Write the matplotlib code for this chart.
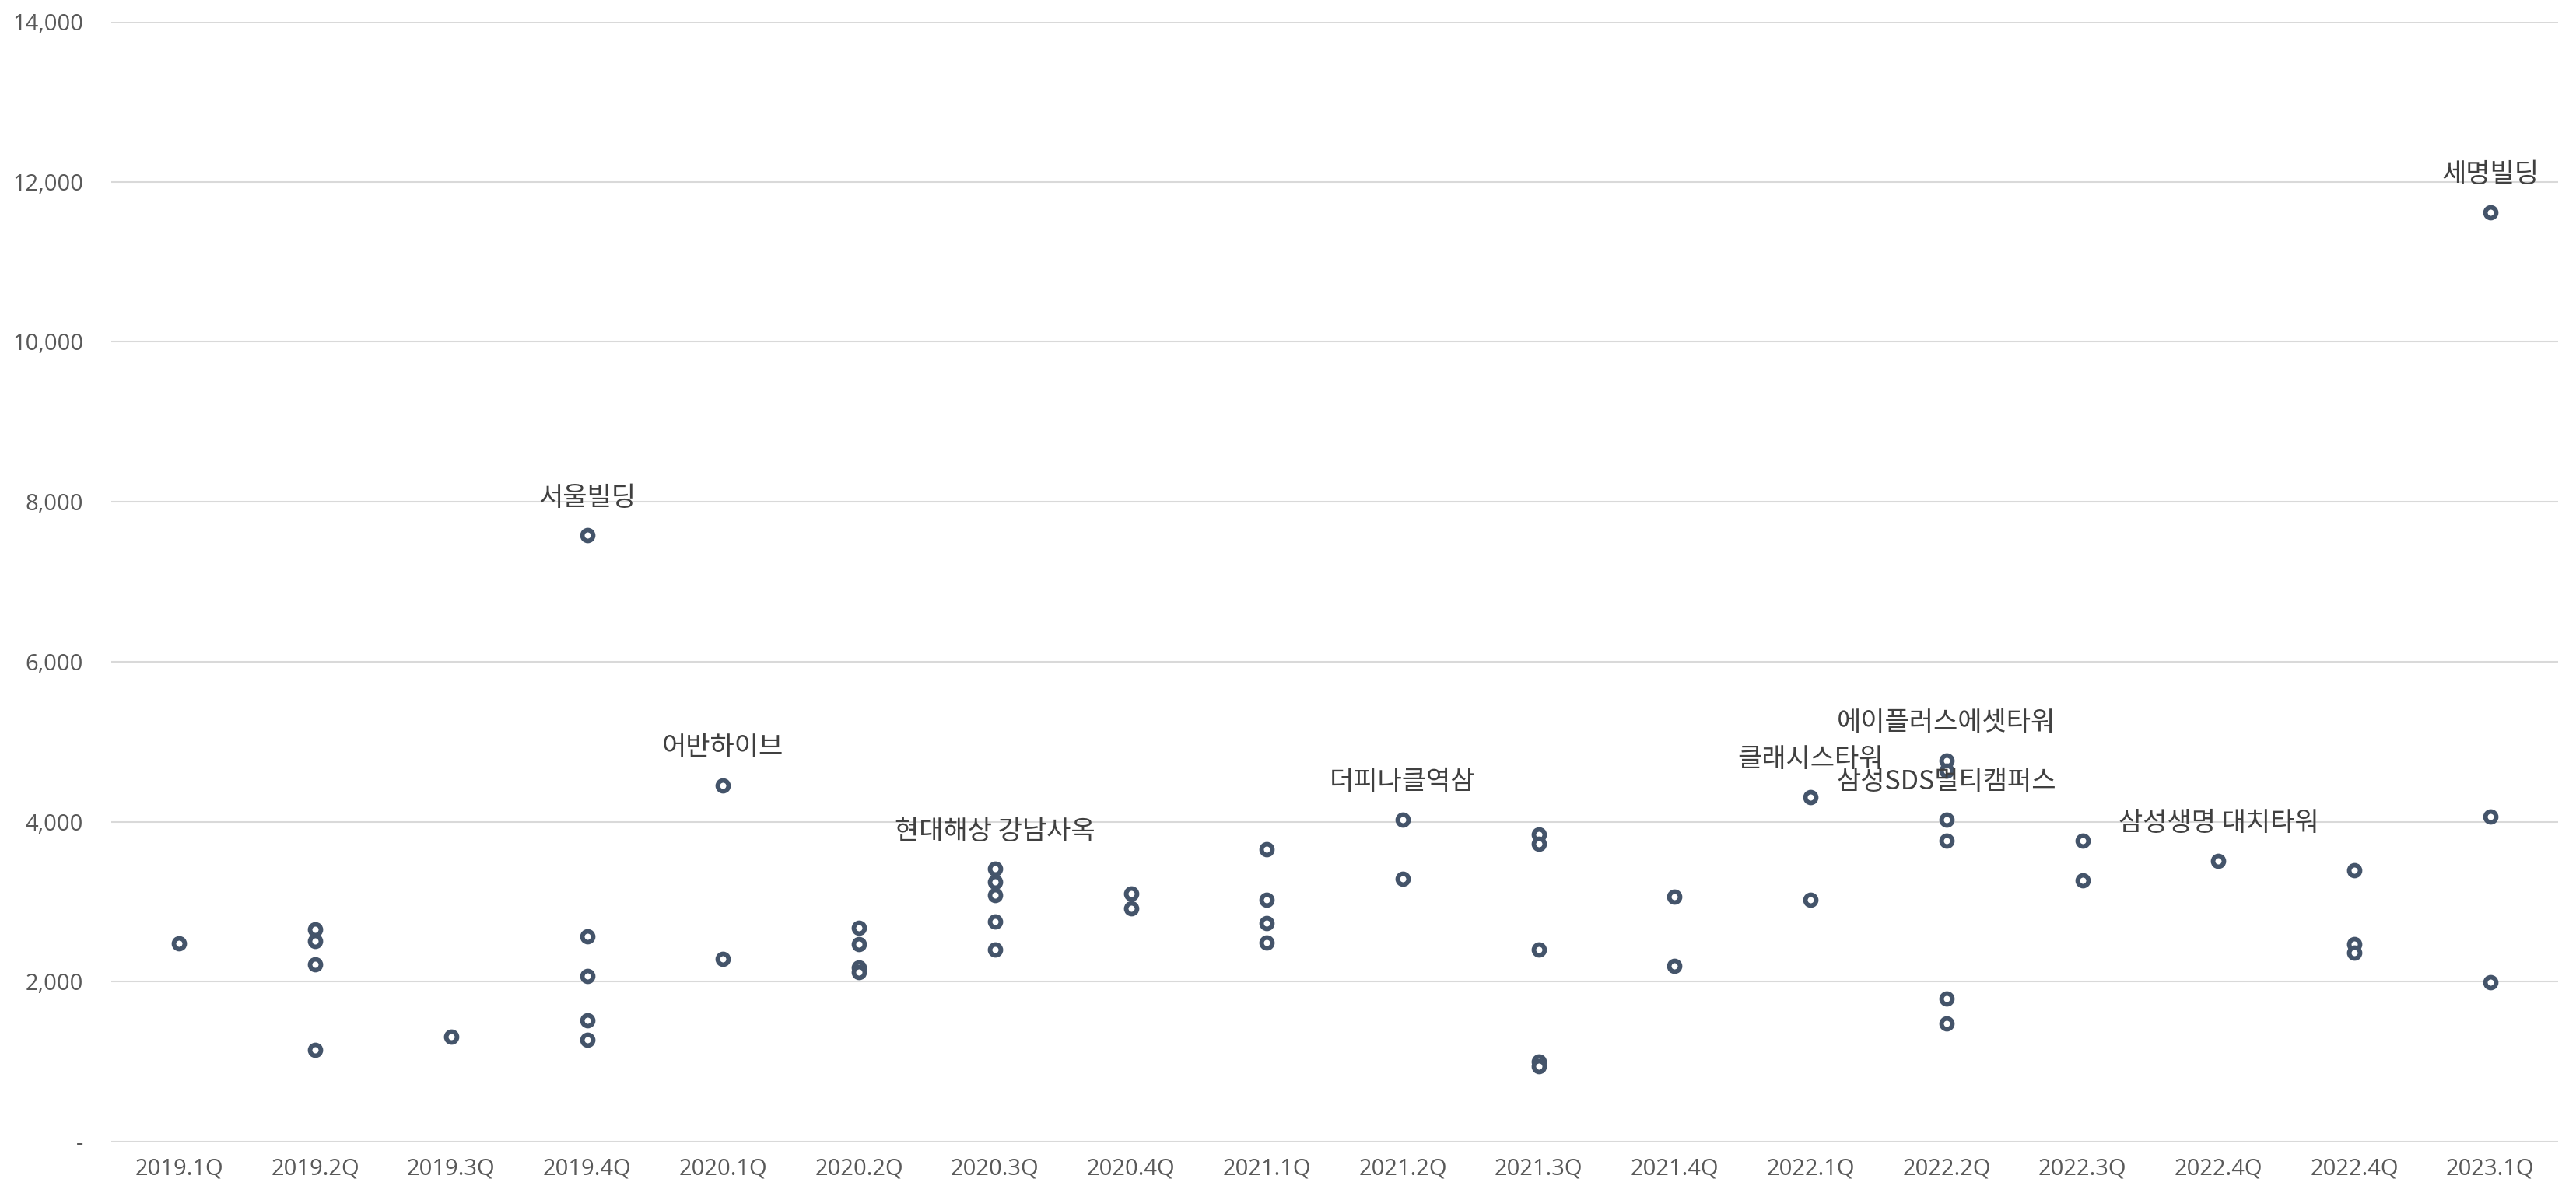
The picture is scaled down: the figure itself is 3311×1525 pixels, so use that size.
import matplotlib.pyplot as plt
from matplotlib.ticker import FuncFormatter

# Quarter labels (Excel chart repeats 2022.4Q)
quarters = ["2019.1Q", "2019.2Q", "2019.3Q", "2019.4Q", "2020.1Q", "2020.2Q",
            "2020.3Q", "2020.4Q", "2021.1Q", "2021.2Q", "2021.3Q", "2021.4Q",
            "2022.1Q", "2022.2Q", "2022.3Q", "2022.4Q", "2022.4Q", "2023.1Q"]

# Deal values per quarter
values = [
    [2480],
    [2650, 2505, 2220, 1150],
    [1315],
    [7580, 2570, 2075, 1520, 1275],
    [4455, 2280],
    [2670, 2465, 2175, 2115],
    [3410, 3245, 3080, 2750, 2400],
    [3100, 2915],
    [3655, 3020, 2730, 2485],
    [4025, 3285],
    [3840, 3720, 2400, 1005, 945],
    [3060, 2195],
    [4310, 3020],
    [4765, 4640, 4025, 3760, 1785, 1480],
    [3760, 3265],
    [3510],
    [3390, 2465, 2360],
    [11620, 4065, 1995],
]

# Named buildings: (quarter index, position in that quarter's list, name)
label_quarter = [3, 4, 6, 9, 12, 13, 13, 15, 17]
label_point = [0, 0, 0, 0, 0, 0, 2, 0, 0]
label_names = ["서울빌딩", "어반하이브", "현대해상 강남사옥", "더피나클역삼", "클래시스타워",
               "에이플러스에셋타워", "삼성SDS멀티캠퍼스", "삼성생명 대치타워", "세명빌딩"]

xs = []
ys = []
for i, vals in enumerate(values):
    for v in vals:
        xs.append(i)
        ys.append(v)

fig = plt.figure(figsize=(33.12, 15.25), dpi=100)
ax = fig.add_axes([0.0432, 0.0374, 0.9496, 0.9442])

ax.plot(xs, ys, linestyle="none", marker="o", markersize=10,
        markerfacecolor="white", markeredgecolor="#44546A",
        markeredgewidth=4.2, zorder=3)

for qi, pi, name in zip(label_quarter, label_point, label_names):
    ax.annotate(name, (qi, values[qi][pi]), xytext=(0, 22),
                textcoords="offset points", ha="center", va="bottom",
                fontsize=24.5, color="#404040",
                family=["Noto Sans CJK KR", "DejaVu Sans"], zorder=4)

ax.set_xlim(-0.5, len(quarters) - 0.5)
ax.set_ylim(0, 14000)
ax.set_yticks(range(0, 14001, 2000))
ax.yaxis.set_major_formatter(FuncFormatter(lambda v, p: "-" if v == 0 else f"{int(v):,}"))
ax.set_xticks(range(len(quarters)))
ax.set_xticklabels(quarters)

ax.grid(axis="y", color="#D9D9D9", linewidth=1.5)
ax.set_axisbelow(True)
for s in ax.spines.values():
    s.set_visible(False)

ax.tick_params(axis="both", length=0, labelsize=21, labelcolor="#595959")
ax.tick_params(axis="y", pad=26)
ax.tick_params(axis="x", pad=15)
for lab in ax.get_xticklabels() + ax.get_yticklabels():
    lab.set_family(["Open Sans", "DejaVu Sans"])

fig.savefig("out.png", dpi=100)
